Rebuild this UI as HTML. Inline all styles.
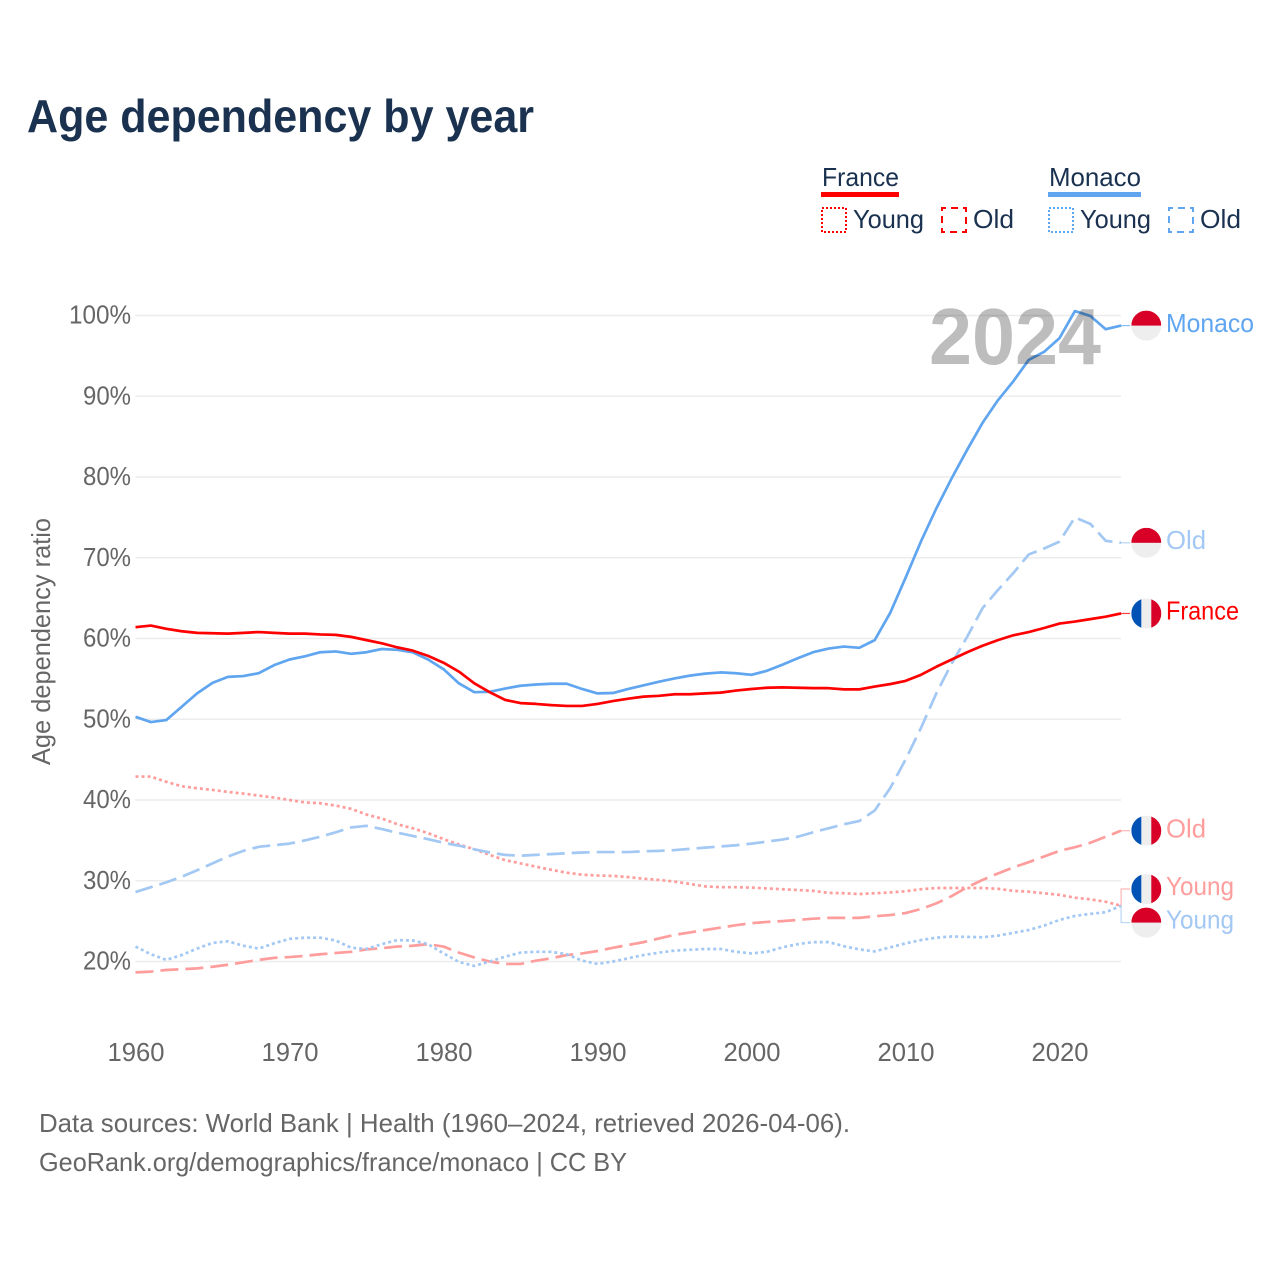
<!DOCTYPE html>
<html lang="en">
<head>
<meta charset="utf-8">
<title>Age dependency by year</title>
<style>
html,body{margin:0;padding:0;background:#fff;width:1280px;height:1280px;overflow:hidden}
svg{display:block}
text{font-family:"Liberation Sans",Arial,sans-serif}
.lg{font-size:26px;fill:#1a3250}
.tick{font-size:26px;fill:#666}
.foot{font-size:26px;fill:#666}
</style>
</head>
<body>
<svg id="chart" xmlns="http://www.w3.org/2000/svg" width="1280" height="1280" viewBox="0 0 1280 1280">
  <defs>
    <clipPath id="flag-clip"><circle cx="0" cy="0" r="15"></circle></clipPath>
  </defs>
  <rect x="0" y="0" width="1280" height="1280" fill="#fff"></rect>

  <text x="27" y="132" font-size="46" font-weight="700" fill="#1a3250" textLength="507" lengthAdjust="spacingAndGlyphs">Age dependency by year</text>

  <g>
    <text class="lg" x="822" y="186" textLength="77" lengthAdjust="spacingAndGlyphs">France</text>
    <rect x="821" y="192" width="78" height="5" fill="#ff0000"></rect>
    <rect x="822" y="208" width="24" height="24" fill="none" stroke="#ff0000" stroke-width="2" stroke-dasharray="2,2"></rect>
    <text class="lg" x="853" y="228" textLength="71" lengthAdjust="spacingAndGlyphs">Young</text>
    <rect x="942" y="208" width="24" height="24" fill="none" stroke="#ff0000" stroke-width="2" stroke-dasharray="7,5" stroke-dashoffset="3"></rect>
    <text class="lg" x="973" y="228" textLength="41" lengthAdjust="spacingAndGlyphs">Old</text>

    <text class="lg" x="1049" y="186" textLength="92" lengthAdjust="spacingAndGlyphs">Monaco</text>
    <rect x="1048" y="192" width="93" height="5" fill="#5fa5ef"></rect>
    <rect x="1049" y="208" width="24" height="24" fill="none" stroke="#5fa5ef" stroke-width="2" stroke-dasharray="2,2"></rect>
    <text class="lg" x="1080" y="228" textLength="71" lengthAdjust="spacingAndGlyphs">Young</text>
    <rect x="1169" y="208" width="24" height="24" fill="none" stroke="#5fa5ef" stroke-width="2" stroke-dasharray="7,5" stroke-dashoffset="3"></rect>
    <text class="lg" x="1200" y="228" textLength="41" lengthAdjust="spacingAndGlyphs">Old</text>
  </g>

  <g id="grid"></g>
  <g id="yticks"></g>
  <g id="xticks"></g>

  <text class="tick" transform="translate(50,641.5) rotate(-90)" text-anchor="middle" textLength="247" lengthAdjust="spacingAndGlyphs">Age dependency ratio</text>

  <g id="series"></g>

  <text x="1101" y="364" text-anchor="end" font-size="80" font-weight="700" fill="#000" fill-opacity="0.26" textLength="172" lengthAdjust="spacingAndGlyphs">2024</text>

  <g id="ends"></g>

  <text class="foot" x="39" y="1132" textLength="811" lengthAdjust="spacingAndGlyphs">Data sources: World Bank | Health (1960–2024, retrieved 2026-04-06).</text>
  <text class="foot" x="39" y="1171" textLength="588" lengthAdjust="spacingAndGlyphs">GeoRank.org/demographics/france/monaco | CC BY</text>
</svg>

<script>
const firstYear = 1960;
const lastYear = 2024;
const xTickLabels = [1960, 1970, 1980, 1990, 2000, 2010, 2020];
const yTickValues = [20, 30, 40, 50, 60, 70, 80, 90, 100];

const franceTotal = [61.4,61.6,61.2,60.9,60.7,60.65,60.6,60.7,60.8,60.7,
  60.6,60.6,60.5,60.45,60.2,59.8,59.4,58.9,58.5,57.85,
  57.0,55.9,54.45,53.35,52.4,52.0,51.9,51.75,51.65,51.65,
  51.9,52.25,52.55,52.8,52.9,53.1,53.1,53.2,53.3,53.55,
  53.75,53.9,53.95,53.9,53.85,53.85,53.7,53.7,54.05,54.35,
  54.75,55.5,56.5,57.4,58.3,59.1,59.8,60.4,60.8,61.3,
  61.85,62.1,62.4,62.7,63.1];
const franceYoung = [42.9,42.9,42.25,41.7,41.45,41.25,41,40.8,40.55,40.3,
  40.0,39.7,39.6,39.3,38.9,38.2,37.7,37.0,36.5,35.9,
  35.15,34.5,33.9,33.2,32.55,32.15,31.75,31.35,31,30.75,
  30.65,30.6,30.45,30.25,30.1,29.9,29.6,29.3,29.2,29.2,
  29.15,29.05,28.95,28.85,28.75,28.5,28.45,28.35,28.45,28.55,
  28.7,28.95,29.1,29.1,29.1,29.1,29,28.75,28.65,28.45,
  28.25,27.9,27.7,27.4,26.9];
const franceOld = [18.65,18.75,18.95,19.05,19.15,19.35,19.6,19.9,20.2,20.45,
  20.55,20.7,20.9,21.05,21.2,21.5,21.65,21.85,21.95,22.15,
  21.85,21.1,20.5,20,19.7,19.7,20.1,20.4,20.8,21,
  21.3,21.7,22.05,22.4,22.85,23.3,23.6,23.9,24.2,24.5,
  24.75,24.9,25,25.15,25.3,25.4,25.4,25.4,25.6,25.75,
  26,26.5,27.2,28.1,29.2,30.1,30.9,31.65,32.3,33,
  33.7,34.15,34.7,35.45,36.2];
const monacoTotal = [50.3,49.65,49.9,51.55,53.2,54.5,55.25,55.35,55.7,56.7,
  57.4,57.8,58.3,58.4,58.1,58.3,58.7,58.6,58.3,57.4,
  56.2,54.45,53.35,53.4,53.8,54.15,54.3,54.4,54.4,53.75,
  53.2,53.25,53.75,54.2,54.65,55.05,55.4,55.65,55.8,55.7,
  55.5,56,56.75,57.55,58.3,58.75,59,58.85,59.8,63.15,
  67.5,72.0,76.1,79.85,83.35,86.7,89.5,91.85,94.5,95.5,
  97.2,100.55,99.95,98.3,98.75];
const monacoYoung = [21.85,20.9,20.2,20.8,21.6,22.3,22.5,21.95,21.6,22.25,
  22.8,22.95,22.95,22.6,21.7,21.55,22.15,22.65,22.6,22.15,
  21,19.95,19.45,20,20.6,21.1,21.2,21.2,20.9,20.1,
  19.7,20,20.4,20.8,21.1,21.35,21.45,21.55,21.55,21.2,
  21,21.2,21.75,22.15,22.4,22.4,21.9,21.5,21.25,21.75,
  22.25,22.65,22.95,23.1,23.05,23,23.2,23.55,23.9,24.45,
  25.15,25.65,25.9,26.1,26.9];
const monacoOld = [28.6,29.2,29.8,30.5,31.3,32.15,33,33.7,34.2,34.4,
  34.6,35,35.45,36,36.6,36.8,36.4,35.95,35.55,35.15,
  34.7,34.35,33.9,33.5,33.2,33.1,33.2,33.3,33.4,33.5,
  33.55,33.55,33.55,33.65,33.7,33.8,33.95,34.1,34.25,34.4,
  34.6,34.85,35.1,35.45,36,36.5,37,37.4,38.7,41.45,
  45,48.9,53.2,56.9,60.2,63.75,66,68.1,70.4,71.15,
  72,75,74.2,72.1,71.85];

const NS = 'http://www.w3.org/2000/svg';
const plotLeft = 135.5, plotRight = 1121.1;
const xScale = function (year) {
  return plotLeft + (year - firstYear) * (plotRight - plotLeft) / (lastYear - firstYear);
};
const yScale = function (v) {
  return 961.5 - (v - 20) * (961.5 - 315.5) / 80;
};
function make(tag, attrs, parent) {
  const el = document.createElementNS(NS, tag);
  for (const k in attrs) el.setAttribute(k, attrs[k]);
  parent.appendChild(el);
  return el;
}

const gridG = document.getElementById('grid');
const yG = document.getElementById('yticks');
const xG = document.getElementById('xticks');
const seriesG = document.getElementById('series');
const endsG = document.getElementById('ends');

yTickValues.forEach(function (v) {
  const line = make('line', {x1: plotLeft, x2: plotRight, y1: yScale(v), y2: yScale(v), stroke: '#ececec', 'stroke-width': 1.5}, gridG);
  
  
  const t = make('text', {x: 131, y: yScale(v) + 8, 'text-anchor': 'end', class: 'tick', textLength: v === 100 ? 62 : 48, lengthAdjust: 'spacingAndGlyphs'}, yG);
  t.textContent = v + '%';
  
  
});

xTickLabels.forEach(function (year) {
  const t = make('text', {x: xScale(year) + 0.5, y: 1061, 'text-anchor': 'middle', class: 'tick', textLength: 57, lengthAdjust: 'spacingAndGlyphs'}, xG);
  t.textContent = year;
  
  
});

function drawLine(values, color, dash, name) {
  const pts = values.map(function (v, i) {
    return xScale(firstYear + i).toFixed(2) + ',' + yScale(v).toFixed(2);
  }).join(' ');
  const attrs = {points: pts, fill: 'none', stroke: color, 'stroke-width': 2.7, 'stroke-linejoin': 'round'};
  if (dash) attrs['stroke-dasharray'] = dash;
  const el = make('polyline', attrs, seriesG);
  
  
}

const RED = '#ff0000', BLUE = '#5fa5ef', PINK = '#ff9d9d', SKY = '#a2c8f3';
const DOT = '3,3', DASH = '18,7';
drawLine(franceOld, PINK, DASH, 'line-france-old');
drawLine(franceYoung, PINK, DOT, 'line-france-young');
drawLine(monacoOld, SKY, DASH, 'line-monaco-old');
drawLine(monacoYoung, SKY, DOT, 'line-monaco-young');
drawLine(monacoTotal, BLUE, '', 'line-monaco-total');
drawLine(franceTotal, RED, '', 'line-france-total');

function drawFlag(country, cy, name) {
  const g = make('g', {transform: 'translate(1146.3,' + cy + ')', 'clip-path': 'url(#flag-clip)'}, endsG);
  
  
  if (country === 'france') {
    make('rect', {x: -15, y: -15, width: 30, height: 30, fill: '#eeeeee'}, g);
    make('rect', {x: -15, y: -15, width: 10, height: 30, fill: '#0052b4'}, g);
    make('rect', {x: 5, y: -15, width: 10, height: 30, fill: '#d80027'}, g);
  } else {
    make('rect', {x: -15, y: -15, width: 30, height: 30, fill: '#eeeeee'}, g);
    make('rect', {x: -15, y: -15, width: 30, height: 15, fill: '#d80027'}, g);
  }
}

function drawEnd(values, offset, country, label, color, width, lift, name) {
  const y0 = yScale(values[values.length - 1]);
  const cy = y0 + offset;
  const d = offset === 0
    ? 'M' + plotRight + ' ' + y0 + 'H1130'
    : 'M' + plotRight + ' ' + y0 + 'V' + cy + 'H1130';
  const path = make('path', {d: d, fill: 'none', stroke: color, 'stroke-width': 1.2, 'stroke-opacity': 0.75}, endsG);
  
  
  drawFlag(country, cy, name + '-flag');
  const t = make('text', {x: 1166, y: cy + lift, 'font-size': 26, fill: color, textLength: width, lengthAdjust: 'spacingAndGlyphs'}, endsG);
  t.textContent = label;
  
  
}

drawEnd(monacoTotal, 0, 'monaco', 'Monaco', BLUE, 88, 6.5, 'end-monaco-total');
drawEnd(monacoOld, 0, 'monaco', 'Old', SKY, 40, 6, 'end-monaco-old');
drawEnd(franceTotal, 0, 'france', 'France', RED, 73, 6, 'end-france-total');
drawEnd(franceOld, 0, 'france', 'Old', PINK, 40, 7, 'end-france-old');
drawEnd(franceYoung, -16.8, 'france', 'Young', PINK, 68, 6, 'end-france-young');
drawEnd(monacoYoung, 16.8, 'monaco', 'Young', SKY, 68, 6, 'end-monaco-young');
</script>
</body>
</html>
